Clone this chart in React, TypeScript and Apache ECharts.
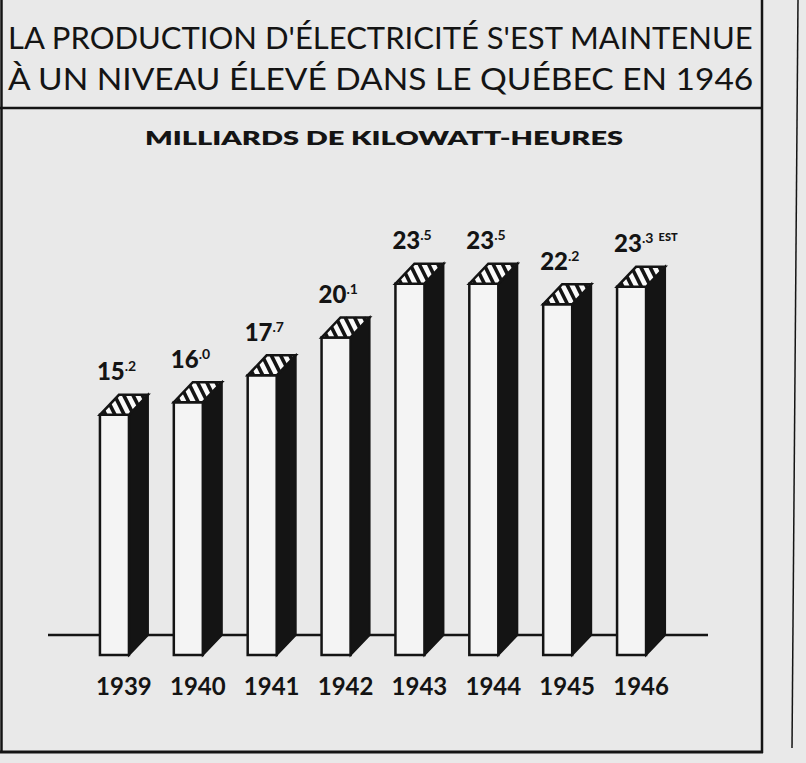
import React, { useEffect, useRef } from "react";
import * as echarts from "echarts";

const years = ["1939", "1940", "1941", "1942", "1943", "1944", "1945", "1946"];
const production = [15.2, 16.0, 17.7, 20.1, 23.5, 23.5, 22.2, 23.3];
const notes = ["", "", "", "", "", "", "", "EST"];

const titleLines = [
  "LA PRODUCTION D'ÉLECTRICITÉ S'EST MAINTENUE",
  "À UN NIVEAU ÉLEVÉ DANS LE QUÉBEC EN 1946",
];
const subtitle = "MILLIARDS DE KILOWATT-HEURES";

const INK = "#141414";
const PAPER = "#e9e9e9";
const FACE = "#f4f4f4";

function measure(text: string, font: string): number {
  const c = document.createElement("canvas");
  const ctx = c.getContext("2d");
  if (!ctx) return text.length * 15;
  ctx.font = font;
  return ctx.measureText(text).width;
}

export default function App() {
  const ref = useRef<HTMLDivElement>(null);

  useEffect(() => {
    if (!ref.current) return;
    const chart = echarts.init(ref.current, undefined, { renderer: "svg" });

    const titleFont = "400 30px Lato";
    const w1 = measure(titleLines[0], titleFont);
    const w2 = measure(titleLines[1], titleFont);
    const subFont = "800 19px Lato";
    const ws = measure(subtitle, subFont);

    const DX = 19;
    const DY = 20;

    const renderItem = (params: any, api: any) => {
      const i = api.value(0);
      const v = api.value(1);
      const top = api.coord([i, v]);
      const base = api.coord([i, 0]);
      const c = top[0];
      const xl = c - 24;
      const xr = c + 5;
      const yT = top[1];
      const yB = base[1];
      const w = xr - xl;

      const children: any[] = [];
      // side face
      children.push({
        type: "polygon",
        shape: {
          points: [
            [xr, yT],
            [xr + DX, yT - DY],
            [xr + DX, yB - DY],
            [xr, yB],
          ],
        },
        style: { fill: INK, stroke: INK, lineWidth: 2 },
      });
      // front face
      children.push({
        type: "rect",
        shape: { x: xl, y: yT, width: w, height: yB - yT },
        style: { fill: FACE, stroke: INK, lineWidth: 2.5 },
      });
      // top cap
      children.push({
        type: "polygon",
        shape: {
          points: [
            [xl, yT],
            [xr, yT],
            [xr + DX, yT - DY],
            [xl + DX, yT - DY],
          ],
        },
        style: { fill: "#fafafa", stroke: "none" },
      });
      // hatching
      const s = -1;
      for (let u0 = 0.2; u0 < 2; u0 += 0.32) {
        const t0 = Math.max(0, u0 - 1);
        const t1 = Math.min(1, u0);
        if (t1 <= t0) continue;
        const P = (t: number) => [
          xl + (u0 + s * t) * w + t * DX,
          yT - t * DY,
        ];
        const a = P(t0);
        const b = P(t1);
        children.push({
          type: "line",
          shape: { x1: a[0], y1: a[1], x2: b[0], y2: b[1] },
          style: { stroke: INK, lineWidth: 3.6 },
        });
      }
      children.push({
        type: "polygon",
        shape: {
          points: [
            [xl, yT],
            [xr, yT],
            [xr + DX, yT - DY],
            [xl + DX, yT - DY],
          ],
        },
        style: { fill: "none", stroke: INK, lineWidth: 2.5 },
      });
      // value label
      const str = production[params.dataIndex].toFixed(1);
      const parts = str.split(".");
      const note = notes[params.dataIndex];
      children.push({
        type: "text",
        x: xl - 3,
        y: yT - DY - 12,
        style: {
          text:
            "{a|" + parts[0] + "}{b|." + parts[1] + "}" + (note ? "{c|  " + note + "}" : ""),
          align: "left",
          verticalAlign: "bottom",
          rich: {
            a: { fontFamily: "Lato", fontWeight: 900, fontSize: 24, fill: INK, color: INK },
            b: { fontFamily: "Lato", fontWeight: 700, fontSize: 14, fill: INK, color: INK, verticalAlign: "top" },
            c: { fontFamily: "Lato", fontWeight: 900, fontSize: 11, fill: INK, color: INK, verticalAlign: "top" },
          },
        },
      });
      return { type: "group", children };
    };

    chart.setOption({
      animation: false,
      backgroundColor: PAPER,
      grid: { left: 87, right: 128, top: 181, bottom: 108 },
      xAxis: {
        type: "category",
        data: years,
        axisLine: { show: false },
        axisTick: { show: false },
        axisLabel: {
          margin: 18,
          fontFamily: "Lato",
          fontWeight: 700,
          fontSize: 24,
          color: INK,
        },
      },
      yAxis: {
        type: "value",
        min: 0,
        max: 30,
        show: false,
        splitLine: { show: false },
      },
      graphic: [
        {
          type: "text",
          x: 8,
          y: 37,
          scaleX: 747 / w1,
          style: {
            text: titleLines[0],
            font: titleFont,
            fill: INK,
            textAlign: "left",
            textVerticalAlign: "middle",
          },
        },
        {
          type: "text",
          x: 8,
          y: 79,
          scaleX: 747 / w2,
          style: {
            text: titleLines[1],
            font: titleFont,
            fill: INK,
            textAlign: "left",
            textVerticalAlign: "middle",
          },
        },
        {
          type: "text",
          x: 145,
          y: 138,
          scaleX: 478 / ws,
          style: {
            text: subtitle,
            font: subFont,
            fill: INK,
            textAlign: "left",
            textVerticalAlign: "middle",
          },
        },
        {
          type: "line",
          z: 0,
          shape: { x1: 48, y1: 635, x2: 708, y2: 635 },
          style: { stroke: INK, lineWidth: 2.5 },
        },
        {
          type: "line",
          shape: { x1: 1.5, y1: 0, x2: 1.5, y2: 753 },
          style: { stroke: INK, lineWidth: 2.5 },
        },
        {
          type: "line",
          shape: { x1: 0, y1: 752, x2: 763, y2: 752 },
          style: { stroke: INK, lineWidth: 3 },
        },
        {
          type: "line",
          shape: { x1: 762, y1: 0, x2: 762, y2: 753 },
          style: { stroke: INK, lineWidth: 2.5 },
        },
        {
          type: "line",
          shape: { x1: 0, y1: 108, x2: 762, y2: 108 },
          style: { stroke: INK, lineWidth: 2.5 },
        },
        {
          type: "line",
          shape: { x1: 798, y1: 0, x2: 792, y2: 748 },
          style: { stroke: INK, lineWidth: 1.5 },
        },
      ],
      series: [
        {
          type: "custom",
          z: 5,
          renderItem,
          data: production.map((v, i) => [i, v]),
          encode: { x: 0, y: 1 },
        },
      ],
    });

    return () => chart.dispose();
  }, []);

  return (
    <div
      ref={ref}
      style={{ position: "fixed", left: 0, top: 0, width: 806, height: 763 }}
    />
  );
}
